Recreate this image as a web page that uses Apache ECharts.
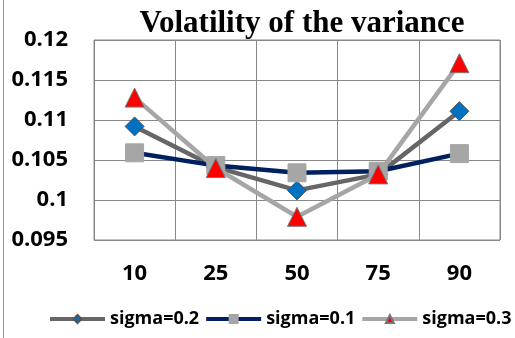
<!DOCTYPE html>
<html><head><meta charset="utf-8">
<script src="https://cdn.jsdelivr.net/npm/echarts@6/dist/echarts.min.js"></script>
<style>html,body{margin:0;padding:0;background:#fff}#c{width:515px;height:338px}</style>
</head><body><div id="c"></div>
<script>
const categories = ['10','25','50','75','90'];
const sigma02 = [0.1092, 0.1041, 0.1012, 0.1032, 0.1111];
const sigma01 = [0.1059, 0.1043, 0.1034, 0.1036, 0.1058];
const sigma03 = [0.1128, 0.1040, 0.0979, 0.1032, 0.1171];
const seriesNames = ['sigma=0.2','sigma=0.1','sigma=0.3'];
const yTicks = {min:0.095, max:0.12, interval:0.005};

const chart = echarts.init(document.getElementById('c'), null, {renderer:'canvas'});
const lbl = {fontFamily:'"Open Sans", "Noto Sans", sans-serif', fontWeight:'bold', fontSize:22, color:'#000'};
chart.setOption({
  animation:false,
  backgroundColor:'#fff',
  title:{text:'Volatility of the variance', left:297, top:3, textAlign:'center',
    textStyle:{fontFamily:'"Liberation Serif", "Times New Roman", serif', fontWeight:'bold', fontSize:31, color:'#000'}},
  grid:{left:94, right:15, top:40, bottom:98, show:true, borderColor:'#888', borderWidth:1},
  xAxis:{type:'category', data:categories, boundaryGap:true,
    axisLine:{show:false}, axisTick:{show:false},
    splitLine:{show:true, interval:0, lineStyle:{color:'#888', width:1}},
    axisLabel:Object.assign({margin:23}, lbl)},
  yAxis:{type:'value', min:yTicks.min, max:yTicks.max, interval:yTicks.interval,
    axisLine:{show:false}, axisTick:{show:false},
    splitLine:{lineStyle:{color:'#888', width:1}},
    axisLabel:Object.assign({margin:26, formatter:v=>String(parseFloat(v.toFixed(4)))}, lbl)},
  legend:{top:310, left:48, width:467, padding:0, itemWidth:55, itemHeight:10, itemGap:5,
    lineStyle:{width:4},
    textStyle:{fontFamily:'"Open Sans", "Noto Sans", sans-serif', fontWeight:'bold', fontSize:18, color:'#000'},
    data:seriesNames},
  series:[
    {name:seriesNames[0], type:'line', data:sigma02, symbol:'diamond', symbolSize:19,
      lineStyle:{color:'#666', width:4.5}, itemStyle:{color:'#0070C0', borderColor:'#555', borderWidth:1}},
    {name:seriesNames[1], type:'line', data:sigma01, symbol:'rect', symbolSize:18,
      lineStyle:{color:'#002060', width:4.5}, itemStyle:{color:'#A6A6A6', borderColor:'#A6A6A6', borderWidth:1}},
    {name:seriesNames[2], type:'line', data:sigma03, symbol:'triangle', symbolSize:19,
      lineStyle:{color:'#A6A6A6', width:4.5}, itemStyle:{color:'#FF0000', borderColor:'#777', borderWidth:1}}
  ],
  graphic:[{type:'line', shape:{x1:3.5,y1:0,x2:3.5,y2:338}, style:{stroke:'#999', lineWidth:1}}]
});
</script></body></html>
